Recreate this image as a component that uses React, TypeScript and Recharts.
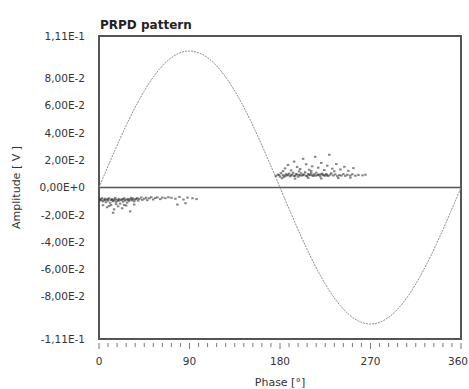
import React from 'react';
import {
  ComposedChart,
  Line,
  Scatter,
  XAxis,
  YAxis,
  ReferenceLine,
  ReferenceArea,
} from 'recharts';

// Supply voltage reference, read every 10 degrees of phase
const sinePhase = [
  0, 10, 20, 30, 40, 50, 60, 70, 80, 90, 100, 110, 120, 130, 140, 150, 160, 170, 180,
  190, 200, 210, 220, 230, 240, 250, 260, 270, 280, 290, 300, 310, 320, 330, 340, 350, 360,
];
const sineAmp = [
  0, 0.0174, 0.0342, 0.05, 0.0643, 0.0766, 0.0866, 0.094, 0.0985, 0.1, 0.0985, 0.094,
  0.0866, 0.0766, 0.0643, 0.05, 0.0342, 0.0174, 0, -0.0174, -0.0342, -0.05, -0.0643,
  -0.0766, -0.0866, -0.094, -0.0985, -0.1, -0.0985, -0.094, -0.0866, -0.0766, -0.0643,
  -0.05, -0.0342, -0.0174, 0,
];

// Discharge pulses around the falling zero crossing (phase, amplitude)
const positivePulses: [number, number][] = [
  [176, 0.0085], [178, 0.0095], [180, 0.008], [181, 0.0105], [183, 0.009], [184, 0.0078],
  [186, 0.0098], [187, 0.0088], [189, 0.0102], [190, 0.0082], [192, 0.0094], [193, 0.0108],
  [195, 0.0086], [196, 0.0099], [198, 0.0079], [199, 0.0092], [201, 0.0104], [202, 0.0087],
  [204, 0.0096], [205, 0.0112], [207, 0.0083], [208, 0.0098], [210, 0.0091], [211, 0.0106],
  [213, 0.0085], [214, 0.0097], [216, 0.0109], [217, 0.0089], [219, 0.0095], [220, 0.0081],
  [222, 0.0102], [223, 0.0092], [225, 0.0087], [226, 0.0099], [228, 0.0084], [230, 0.0094],
  [231, 0.0104], [233, 0.0088], [235, 0.0096], [237, 0.0083], [239, 0.0091], [241, 0.0087],
  [243, 0.0098], [245, 0.0085], [247, 0.0093], [250, 0.0088], [252, 0.0097], [255, 0.0086],
  [258, 0.0092], [262, 0.0089], [265, 0.0094],
  [179, 0.0091], [185, 0.0086], [188, 0.0093], [191, 0.0089], [194, 0.0084], [197, 0.0095],
  [200, 0.0088], [203, 0.0092], [206, 0.0085], [209, 0.0094], [212, 0.0089], [215, 0.0087],
  [218, 0.0093], [221, 0.0096], [224, 0.0088], [227, 0.0091],
  [185, 0.014], [188, 0.0165], [191, 0.0125], [194, 0.019], [197, 0.015], [200, 0.0135],
  [203, 0.021], [206, 0.017], [209, 0.013], [212, 0.0155], [215, 0.0225], [218, 0.0145],
  [221, 0.018], [224, 0.0128], [227, 0.016], [229, 0.024], [232, 0.0138], [236, 0.0172],
  [240, 0.0132], [244, 0.0152], [248, 0.0122], [253, 0.0142], [183, 0.012], [199, 0.0118],
  [211, 0.0121], [234, 0.0119],
  [182, 0.0068], [195, 0.0065], [208, 0.007], [221, 0.0066], [238, 0.0069], [250, 0.0072],
];

// Discharge pulses just after the rising zero crossing
const negativePulses: [number, number][] = [
  [1, -0.0085], [2, -0.0095], [3, -0.0078], [4, -0.0102], [5, -0.009], [6, -0.0082],
  [7, -0.0108], [8, -0.0088], [9, -0.0096], [10, -0.0079], [11, -0.0112], [12, -0.0091],
  [13, -0.0084], [14, -0.0101], [15, -0.0093], [16, -0.0076], [17, -0.0106], [18, -0.0089],
  [19, -0.0097], [20, -0.0083], [21, -0.0118], [22, -0.0092], [23, -0.0086], [24, -0.0104],
  [25, -0.0079], [26, -0.0095], [27, -0.0088], [28, -0.0111], [29, -0.0083], [30, -0.0098],
  [31, -0.0087], [32, -0.0076], [33, -0.0094], [34, -0.0081], [35, -0.0102], [36, -0.0089],
  [38, -0.0078], [39, -0.0096], [40, -0.0084], [42, -0.0073], [43, -0.0091], [45, -0.0082],
  [47, -0.0075], [48, -0.0093], [50, -0.0079], [52, -0.0071], [54, -0.0088], [56, -0.0077],
  [58, -0.0072], [61, -0.0085], [63, -0.0074], [66, -0.0078], [69, -0.0071], [72, -0.0076],
  [2, -0.0089], [6, -0.0093], [9, -0.0086], [13, -0.0092], [16, -0.0088], [20, -0.0094],
  [24, -0.0087], [29, -0.0091], [33, -0.0086], [37, -0.0083],
  [4, -0.013], [8, -0.0145], [12, -0.0128], [15, -0.016], [19, -0.0138], [23, -0.0152],
  [27, -0.0132], [31, -0.0175], [35, -0.0125], [10, -0.0135], [17, -0.0122], [25, -0.0128],
  [14, -0.0185],
  [76, -0.0082], [80, -0.0069], [84, -0.0088], [88, -0.0074], [93, -0.0079], [97, -0.0085],
  [86, -0.0115], [78, -0.0125],
];

const yTicks = [-0.111, -0.08, -0.06, -0.04, -0.02, 0, 0.02, 0.04, 0.06, 0.08, 0.111];
const yTickLabels = [
  '-1,11E-1', '-8,00E-2', '-6,00E-2', '-4,00E-2', '-2,00E-2', '0,00E+0',
  '2,00E-2', '4,00E-2', '6,00E-2', '8,00E-2', '1,11E-1',
];
const xTicks = [
  0, 9, 18, 27, 36, 45, 54, 63, 72, 81, 90, 99, 108, 117, 126, 135, 144, 153, 162, 171,
  180, 189, 198, 207, 216, 225, 234, 243, 252, 261, 270, 279, 288, 297, 306, 315, 324,
  333, 342, 351, 360,
];
const xLabelled = [0, 90, 180, 270, 360];

const FONT = '"DejaVu Sans", Tahoma, sans-serif';
const FRAME = '#555';

const sineData = sinePhase.map((p, i) => ({ phase: p, amp: sineAmp[i] }));
const posData = positivePulses.map(([phase, amp]) => ({ phase, amp }));
const negData = negativePulses.map(([phase, amp]) => ({ phase, amp }));

const PhaseTick = (props: any) => {
  const { x, y, payload } = props;
  const major = xLabelled.includes(payload.value);
  // keep the last label inside the canvas
  const labelX = payload.value === 360 ? x - 3 : x;
  return (
    <g>
      <line
        x1={x}
        x2={x}
        y1={y + 4}
        y2={y + (major ? 10 : 8)}
        stroke="#777"
        strokeWidth={1}
      />
      {major && (
        <text x={labelX} y={y + 26} textAnchor="middle" fontSize={10.5} fill="#333" fontFamily={FONT}>
          {payload.value}
        </text>
      )}
    </g>
  );
};

const Dot = (props: any) => {
  const { cx, cy } = props;
  return <rect x={cx - 1.25} y={cy - 1} width={2.5} height={2} fill="#333" fillOpacity={0.6} />;
};

export default function App() {
  return (
    <div style={{ position: 'fixed', left: 0, top: 0, width: 469, height: 389, background: '#fff' }}>
      <ComposedChart
        width={469}
        height={389}
        margin={{ top: 36, right: 8, left: 0, bottom: 10 }}
      >
        <text x={100} y={29} fontSize={12} fontWeight="bold" fill="#222" fontFamily={FONT}>
          PRPD pattern
        </text>
        <XAxis
          dataKey="phase"
          type="number"
          domain={[0, 360]}
          ticks={xTicks}
          interval={0}
          axisLine={false}
          tickLine={false}
          tickSize={0}
          tickMargin={0}
          height={40}
          tick={<PhaseTick />}
          label={{
            value: 'Phase [°]',
            position: 'insideBottom',
            offset: -7,
            fontSize: 11,
            fill: '#333',
            fontFamily: FONT,
          }}
          allowDuplicatedCategory={false}
        />
        <YAxis
          type="number"
          domain={[-0.111, 0.111]}
          ticks={yTicks}
          interval={0}
          width={99}
          axisLine={false}
          tickLine={false}
          tickSize={0}
          tickMargin={14}
          tick={{ fontSize: 10.5, fill: '#333', fontFamily: FONT }}
          tickFormatter={(v: number) => yTickLabels[yTicks.indexOf(v)] ?? ''}
          label={{
            value: 'Amplitude [ V ]',
            angle: -90,
            position: 'insideLeft',
            offset: 16,
            fontSize: 11,
            fill: '#333',
            fontFamily: FONT,
            style: { textAnchor: 'middle' },
          }}
        />
        <ReferenceArea
          x1={0}
          x2={360}
          y1={-0.111}
          y2={0.111}
          fill="none"
          stroke={FRAME}
          strokeWidth={2}
          ifOverflow="visible"
        />
        <ReferenceLine y={0} stroke={FRAME} strokeWidth={1.5} />
        <Line
          data={sineData}
          dataKey="amp"
          type="monotone"
          stroke="#8c8c8c"
          strokeWidth={1}
          strokeDasharray="2 1"
          dot={false}
          activeDot={false}
          isAnimationActive={false}
        />
        <Scatter data={posData} dataKey="amp" shape={<Dot />} isAnimationActive={false} />
        <Scatter data={negData} dataKey="amp" shape={<Dot />} isAnimationActive={false} />
      </ComposedChart>
    </div>
  );
}
